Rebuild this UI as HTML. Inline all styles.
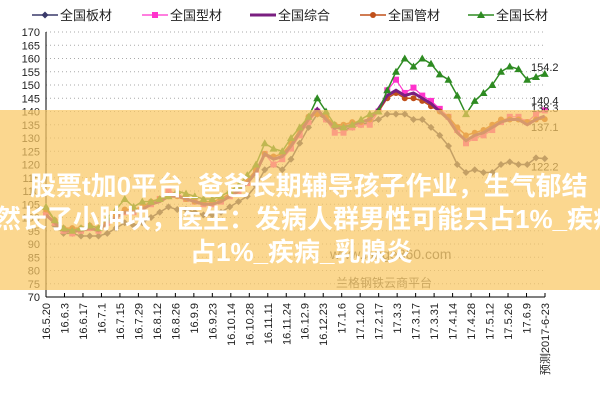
<!DOCTYPE html>
<html><head><meta charset="utf-8"><style>
body{margin:0;background:#fff;width:600px;height:400px;overflow:hidden;position:relative;font-family:"Liberation Sans","Noto Sans CJK SC",sans-serif}
#ov{position:absolute;left:0;top:110px;width:600px;height:180px;background:rgba(250,200,100,0.72)}
.t{position:absolute;color:#fff;font-weight:bold;font-size:26px;white-space:nowrap;font-family:"Liberation Sans","Noto Sans CJK SC",sans-serif}
</style></head><body>
<svg id="s" width="600" height="400" style="position:absolute;left:0;top:0" font-family="Liberation Sans, Noto Sans CJK SC, sans-serif"></svg>
<div id="ov"></div>
<div class="t" style="left:30px;top:166px">股票t加0平台_爸爸长期辅导孩子作业，生气郁结</div>
<div class="t" style="left:-5px;top:199px">然长了小肿块，医生：发病人群男性可能只占1%_疾病</div>
<div class="t" style="left:190px;top:232px">占1%_疾病_乳腺炎</div>
<script>
const s=document.getElementById('s');let h='';
const Y=v=>297-(v-70)*2.65, X=i=>46+i*8.75;
for(let v=70;v<=170;v+=5){const y=Y(v);if(v>70)h+=`<line x1="46" x2="545" y1="${y}" y2="${y}" stroke="#aaa" stroke-dasharray="1,3"/>`;h+=`<text x="40" y="${y+4}" font-size="11" text-anchor="end" fill="#222">${v}</text>`;}
h+=`<line x1="46" y1="32" x2="46" y2="297" stroke="#000"/><line x1="46" y1="297" x2="545" y2="297" stroke="#000"/>`;
const L=["16.5.20","16.6.3","16.6.17","16.7.1","16.7.15","16.7.29","16.8.12","16.8.26","16.9.9","16.9.23","16.10.14","16.10.28","16.11.11","16.11.24","16.12.9","16.12.23","17.1.6","17.1.20","17.2.17","17.3.3","17.3.17","17.3.31","17.4.14","17.4.28","17.5.12","17.5.26","17.6.9","预测2017-6-23"];
L.forEach((t,i)=>{const x=46+i*(499/27);h+=`<line x1="${x}" x2="${x}" y1="293" y2="297" stroke="#000"/><text transform="translate(${x+4},303) rotate(-90)" font-size="11" text-anchor="end" fill="#222">${t}</text>`;});
const D={
g:[104,99,96,95,96,97,96,100,103,107,104,106,106,107,108,110,109,108,107,107,108,110,112,116,120,128,126,125,130,134,138,145,140,135,134,135,137,139,140,148,155,160,157,160,158,154,152,146,139,144,147,150,155,157,156,152,153,154.2],
b:[102,97,94,94,93,93,93,94,96,98,97,98,100,102,104,103,103,102,101,101,102,104,106,108,112,118,120,118,122,128,134,139,137,134,133,134,135,136,137,139,139,139,137,137,134,131,127,120,117,118,117,117,120,121,120,120,122.5,122.2],
p:[101,98,95,94,95,96,95,98,100,102,102,103,105,107,110,109,107,106,105,105,106,108,110,113,117,124,120,122,126,131,136,140,137,132,132,134,135,135,140,148,152,147,149,146,144,141,138,133,128,130,131,133,136,138,138,136,139,140.4],
c:[101,98,95,95,95,96,95,98,100,102,102,103,105,106,108,108,107,106,105,105,106,108,110,113,117,124,122,123,127,132,137,141,137,134,134,135,136,137,141,146,148,146,147,145,143,140,137,132,129,131,132,134,136,137,137,135,137,138.3],
o:[103,99,96,96,96,97,96,99,101,103,103,104,106,107,108,108,107,106,106,106,107,109,111,114,118,124,123,124,128,133,138,139,138,135,135,136,136,137,140,145,147,145,145,144,142,140,138,134,131,132,133,135,137,137,137,136,137,137.1]};
const st={b:['#3a3a6a','d',1.5],p:['#ff33cc','s',1.2],c:['#7a1f80','n',3],o:['#c0501a','c',1.5],g:['#2e8b22','t',1.5]};
function mk(t,x,y,c){if(t=='d')return `<path d="M${x} ${y-3.5}L${x+3.5} ${y}L${x} ${y+3.5}L${x-3.5} ${y}Z" fill="${c}"/>`;if(t=='s')return `<rect x="${x-3}" y="${y-3}" width="6" height="6" fill="${c}"/>`;if(t=='c')return `<circle cx="${x}" cy="${y}" r="3" fill="${c}"/>`;if(t=='t')return `<path d="M${x} ${y-4}L${x+4} ${y+3}L${x-4} ${y+3}Z" fill="${c}"/>`;return '';}
['b','p','o','c','g'].forEach(k=>{const[c,m,w]=st[k];h+=`<polyline fill="none" stroke="${c}" stroke-width="${w}" points="${D[k].map((v,i)=>X(i)+','+Y(v)).join(' ')}"/>`;D[k].forEach((v,i)=>h+=mk(m,X(i),Y(v),c));});
[[154.2,Y(154.2)-3],[140.4,Y(140.4)-6],[138.3,Y(138.3)-4],[137.1,Y(137.1)+12],[122.2,Y(122.2)+12]].forEach(([v,y])=>h+=`<text x="531" y="${y}" font-size="11" fill="#222">${v}</text>`);
h+=`<text x="330" y="259" font-size="14" fill="#555">www.lange360.com</text><text x="336" y="287" font-size="12" fill="#555">兰格钢铁云商平台</text>`;
const lg=[['b','全国板材',32],['p','全国型材',142],['c','全国综合',250],['o','全国管材',360],['g','全国长材',468]];
lg.forEach(([k,t,x])=>{const[c,m,w]=st[k];h+=`<line x1="${x}" x2="${x+26}" y1="15" y2="15" stroke="${c}" stroke-width="${w}"/>`+mk(m,x+13,15,c)+`<text x="${x+28}" y="20" font-size="13" fill="#222">${t}</text>`;});
s.innerHTML=h;
</script>
</body></html>
